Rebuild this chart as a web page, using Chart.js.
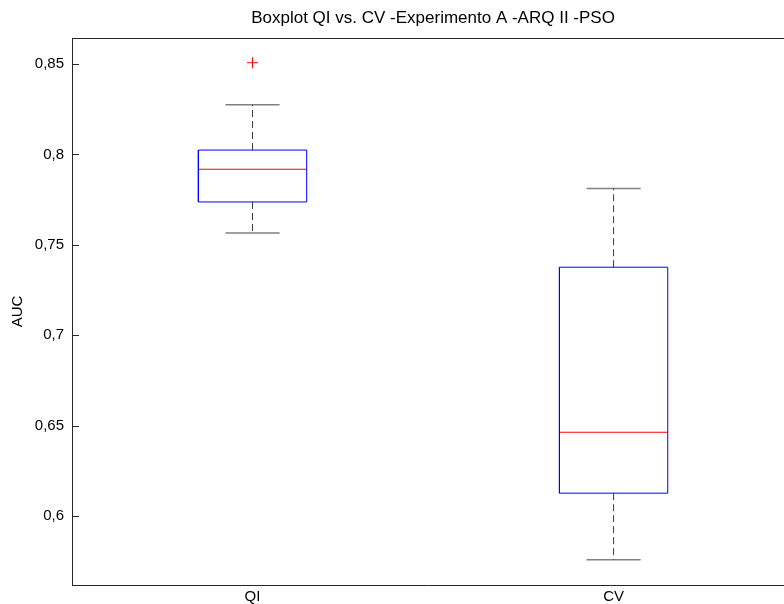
<!DOCTYPE html>
<html>
<head>
<meta charset="utf-8">
<script src="https://cdn.jsdelivr.net/npm/chart.js@4"></script>
<style>
  html, body { margin: 0; padding: 0; background: #fff; overflow: hidden; }
</style>
</head>
<body>
<canvas id="chart" width="784" height="604"></canvas>
<script>
// Boxplot values (AUC per method)
const categories = ['QI', 'CV'];
const whiskerLow = [0.7565, 0.5757];
const q1 = [0.7737, 0.6126];
const median = [0.7918, 0.6463];
const q3 = [0.8024, 0.7376];
const whiskerHigh = [0.8275, 0.7812];
const outliers = [[0.8507], []];
const yTicks = [0.6, 0.65, 0.7, 0.75, 0.8, 0.85];

const boxHalf = 0.15;  // box half width in x units
const capHalf = 0.075; // whisker cap half width
const gap = { x: NaN, y: NaN };

// build line segments for each element from the arrays above
const boxPts = [], medPts = [], whiskPts = [], capPts = [], outPts = [];
categories.forEach((c, i) => {
    const x = i + 1;
    boxPts.push({ x: x - boxHalf, y: q1[i] }, { x: x + boxHalf, y: q1[i] },
                { x: x + boxHalf, y: q3[i] }, { x: x - boxHalf, y: q3[i] },
                { x: x - boxHalf, y: q1[i] }, gap);
    medPts.push({ x: x - boxHalf, y: median[i] }, { x: x + boxHalf, y: median[i] }, gap);
    whiskPts.push({ x: x, y: q3[i] }, { x: x, y: whiskerHigh[i] }, gap,
                  { x: x, y: q1[i] }, { x: x, y: whiskerLow[i] }, gap);
    capPts.push({ x: x - capHalf, y: whiskerHigh[i] }, { x: x + capHalf, y: whiskerHigh[i] }, gap,
                { x: x - capHalf, y: whiskerLow[i] }, { x: x + capHalf, y: whiskerLow[i] }, gap);
    outliers[i].forEach(v => outPts.push({ x: x, y: v }));
});

const FONT = 'Liberation Sans, Arial, Helvetica, sans-serif';

// title, top border and inward tick marks like the matlab figure
// (the right edge of the axes sits just past the window, so it is not drawn)
const matlabFrame = {
    id: 'matlabFrame',
    afterDraw(chart) {
        const ctx = chart.ctx;
        const a = chart.chartArea;
        ctx.save();
        ctx.strokeStyle = '#262626';
        ctx.lineWidth = 1;
        ctx.beginPath();
        ctx.moveTo(a.left, a.top + 0.5);
        ctx.lineTo(a.right, a.top + 0.5);
        const ys = chart.scales.y;
        ys.ticks.forEach(t => {
            const py = Math.round(ys.getPixelForValue(t.value)) + 0.5;
            ctx.moveTo(a.left, py);
            ctx.lineTo(a.left + 7, py);
        });
        ctx.stroke();

        // title centred over the full (0.5 .. 2.5) axes
        const cx = chart.scales.x.getPixelForValue(1.5);
        ctx.fillStyle = '#000';
        ctx.font = '17px ' + FONT;
        ctx.textAlign = 'center';
        ctx.textBaseline = 'middle';
        ctx.fillText('Boxplot QI vs. CV -Experimento A -ARQ II -PSO', cx, 18);
        ctx.restore();
    }
};

new Chart(document.getElementById('chart'), {
    type: 'line',
    data: {
        datasets: [
            { data: boxPts, borderColor: '#0000ff', borderWidth: 1, pointRadius: 0, spanGaps: false },
            { data: medPts, borderColor: '#ff0000', borderWidth: 1, pointRadius: 0, spanGaps: false },
            { data: whiskPts, borderColor: '#3a3a3a', borderWidth: 1, borderDash: [7, 4], pointRadius: 0, spanGaps: false },
            { data: capPts, borderColor: '#808080', borderWidth: 1.5, pointRadius: 0, spanGaps: false },
            { data: outPts, showLine: false, pointStyle: 'cross', pointRadius: 5.5,
              pointBorderColor: '#ff0000', pointBorderWidth: 1 }
        ]
    },
    options: {
        responsive: false,
        animation: false,
        layout: { autoPadding: false, padding: { top: 38, right: 0, left: 0, bottom: 0 } },
        plugins: {
            legend: { display: false },
            tooltip: { enabled: false },
            title: { display: false }
        },
        scales: {
            x: {
                type: 'linear',
                min: 0.5,
                max: 2.472,
                afterFit: s => { s.height = 19; s.paddingLeft = 0; s.paddingRight = 0; },
                afterBuildTicks: s => { s.ticks = categories.map((c, i) => ({ value: i + 1 })); },
                ticks: {
                    autoSkip: false,
                    maxRotation: 0,
                    padding: 3,
                    color: '#000',
                    font: { family: FONT, size: 15 },
                    callback: v => categories[v - 1]
                },
                grid: { display: true, drawOnChartArea: false, drawTicks: false },
                border: { display: true, color: '#262626', width: 1 }
            },
            y: {
                type: 'linear',
                min: 0.5618,
                max: 0.8644,
                afterFit: s => { s.width = 72; s.paddingTop = 0; s.paddingBottom = 0; },
                afterBuildTicks: s => { s.ticks = yTicks.map(v => ({ value: v })); },
                ticks: {
                    padding: 8,
                    color: '#000',
                    font: { family: FONT, size: 15 },
                    callback: v => String(v).replace('.', ',')
                },
                grid: { display: true, drawOnChartArea: false, drawTicks: false },
                border: { display: true, color: '#262626', width: 1 },
                title: {
                    display: true,
                    text: 'AUC',
                    color: '#000',
                    font: { family: FONT, size: 15 },
                    padding: { top: 9, bottom: 0 }
                }
            }
        }
    },
    plugins: [matlabFrame]
});
</script>
</body>
</html>
